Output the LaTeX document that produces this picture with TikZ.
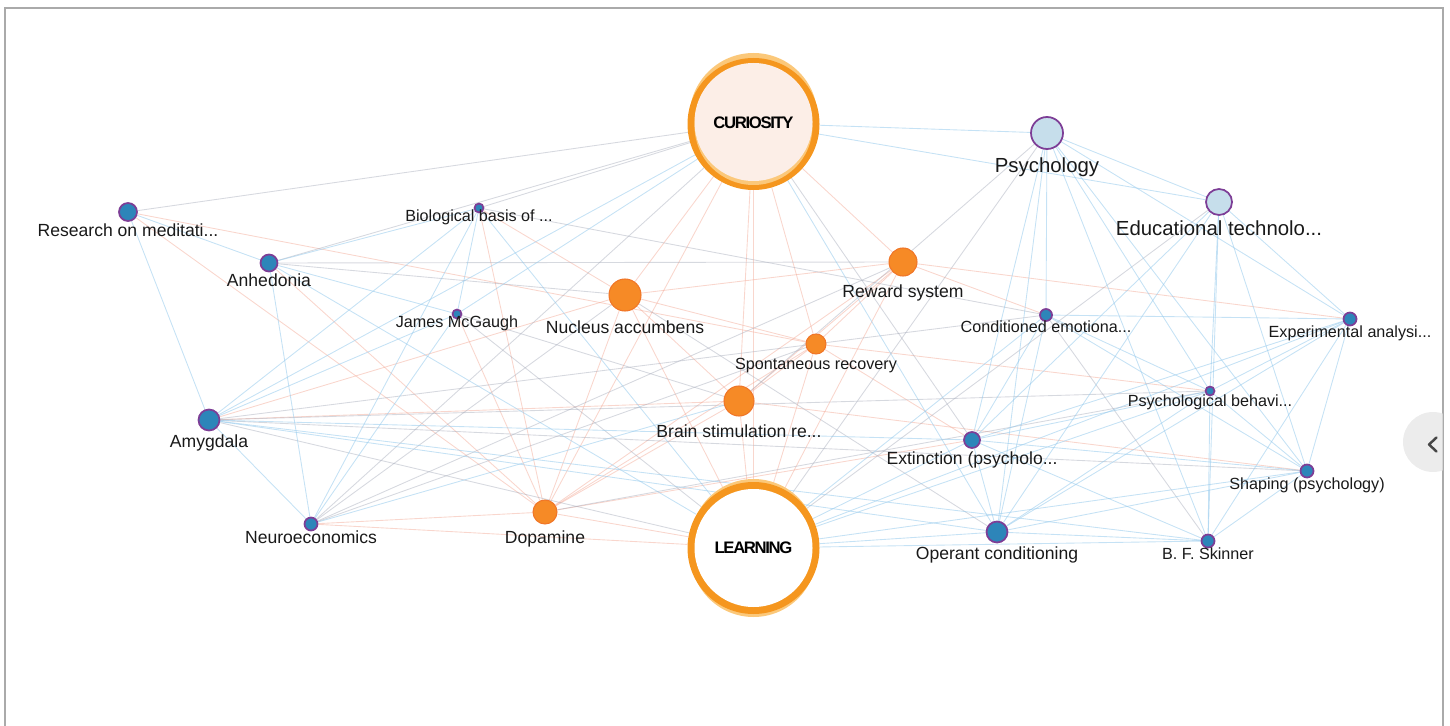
\documentclass[tikz,border=0pt]{standalone}
\usepackage{fontspec}
\setmainfont{Liberation Sans}
\newfontfamily\hubfont[LetterSpace=-8]{Liberation Sans}
\usetikzlibrary{backgrounds}

\definecolor{dotblue}{RGB}{45,133,185}
\definecolor{dotrim}{RGB}{125,62,150}
\definecolor{dotpale}{RGB}{198,222,235}
\definecolor{dotorange}{RGB}{246,138,38}
\definecolor{orangerim}{RGB}{240,118,40}
\definecolor{hubring}{RGB}{245,150,30}
\definecolor{hublight}{RGB}{251,200,122}
\definecolor{hubcream}{RGB}{252,238,231}
\definecolor{edgeblue}{RGB}{150,202,236}
\definecolor{edgered}{RGB}{242,165,145}
\definecolor{edgegrey}{RGB}{165,170,185}
\definecolor{labtext}{RGB}{25,25,25}
\definecolor{framegrey}{RGB}{170,170,170}
\definecolor{tabgrey}{RGB}{236,236,236}
\definecolor{chevgrey}{RGB}{70,70,70}

\tikzset{
  bdot/.style={circle, inner sep=0pt, minimum size=2*#1*0.02cm,
    fill=dotblue, draw=dotrim, line width=1pt},
  pdot/.style={bdot=#1, fill=dotpale},
  odot/.style={circle, inner sep=0pt, minimum size=2*#1*0.02cm,
    fill=dotorange, draw=orangerim, line width=0.6pt},
  hub/.style={circle, inner sep=0pt, minimum size=132*0.02cm,
    font=\hubfont\fontsize{9.5}{11}\selectfont\bfseries},
  lab/.style={anchor=base, inner sep=0pt, text=labtext,
    font=\fontsize{10}{12}\selectfont},
  labs/.style={lab, font=\fontsize{9.2}{11}\selectfont},
  labb/.style={lab, font=\fontsize{11.6}{14}\selectfont},
  redge/.style={draw=edgered, line width=0.5pt, draw opacity=0.45},
  gedge/.style={draw=edgegrey, line width=0.5pt, draw opacity=0.45},
  bedge/.style={draw=edgeblue, line width=0.5pt, draw opacity=0.55}
}

\begin{document}
\begin{tikzpicture}[x=0.02cm, y=-0.02cm]
  \useasboundingbox (0,0) rectangle (1450,726);
  % frame and side tab
  \draw[framegrey, line width=0.8pt] (5,726) -- (5,8) -- (1443,8) -- (1443,726);
  \begin{scope}
    \clip (1395,400) rectangle (1442.5,490);
    \fill[tabgrey] (1433,442) circle[radius=30];
  \end{scope}
  \draw[chevgrey, line width=1.4pt, line cap=round, line join=round]
    (1436.5,437.5) -- (1429,444.5) -- (1436.5,451.5);

  % hub rings
  \begin{scope}[shift={(753.5,123)}]
    \fill[hublight] (0,-6) circle[radius=64];
    \fill[hubring] (0,1) circle[radius=66];
    \fill[hublight] (0,3) circle[radius=59];
    \fill[hubcream] (0,-1) circle[radius=59];
  \end{scope}
  \begin{scope}[shift={(753.5,548)}]
    \fill[hublight] (0,-6) circle[radius=63];
    \fill[hublight] (0,6) circle[radius=63];
    \fill[hubring] (0,0) circle[radius=66];
    \fill[white] (0,0) circle[radius=59];
  \end{scope}
  \node[hub] (cur) at (753.5,123) {CURIOSITY};
  \node[hub] (lrn) at (753.5,548) {LEARNING};

  % concepts
  \node[bdot=9]    (res) at (128,212) {};
  \node[bdot=8.5]  (anh) at (269,263) {};
  \node[bdot=4.5]  (bio) at (479,208) {};
  \node[bdot=4.5]  (mcg) at (457,314) {};
  \node[bdot=10.5] (amy) at (209,420) {};
  \node[bdot=6.5]  (neu) at (311,524) {};
  \node[odot=16]   (nac) at (625,295) {};
  \node[odot=14]   (rew) at (903,262) {};
  \node[odot=10]   (spo) at (816,344) {};
  \node[odot=15]   (bsr) at (739,401) {};
  \node[odot=12]   (dop) at (545,512) {};
  \node[pdot=16]   (psy) at (1047,133) {};
  \node[pdot=13]   (edu) at (1219,202) {};
  \node[bdot=6]    (cer) at (1046,315) {};
  \node[bdot=6.5]  (exa) at (1350,319) {};
  \node[bdot=4.5]  (pbh) at (1210,391) {};
  \node[bdot=8]    (ext) at (972,440) {};
  \node[bdot=6.5]  (sha) at (1307,471) {};
  \node[bdot=10.5] (opc) at (997,532) {};
  \node[bdot=6.5]  (bfs) at (1208,541) {};

  % labels
  \node[lab]  (res-t) at (128,236.5) {Research on meditati...};
  \node[lab]  (anh-t) at (269,286.5) {Anhedonia};
  \node[labs] (bio-t) at (479,222) {Biological basis of ...};
  \node[labs] (mcg-t) at (457,327) {James McGaugh};
  \node[lab]  (amy-t) at (209,447.5) {Amygdala};
  \node[lab]  (neu-t) at (311,543.5) {Neuroeconomics};
  \node[lab]  (nac-t) at (625,333.5) {Nucleus accumbens};
  \node[lab]  (rew-t) at (903,297.5) {Reward system};
  \node[labs] (spo-t) at (816,369) {Spontaneous recovery};
  \node[lab]  (bsr-t) at (739,437.5) {Brain stimulation re...};
  \node[lab]  (dop-t) at (545,543) {Dopamine};
  \node[labb] (psy-t) at (1047,172.5) {Psychology};
  \node[labb] (edu-t) at (1219,235.5) {Educational technolo...};
  \node[labs] (cer-t) at (1046,332) {Conditioned emotiona...};
  \node[labs] (exa-t) at (1350,337) {Experimental analysi...};
  \node[labs] (pbh-t) at (1210,406) {Psychological behavi...};
  \node[lab]  (ext-t) at (972,464.5) {Extinction (psycholo...};
  \node[labs] (sha-t) at (1307,489) {Shaping (psychology)};
  \node[lab]  (opc-t) at (997,559.5) {Operant conditioning};
  \node[labs] (bfs-t) at (1208,559) {B. F. Skinner};

  % links
  \begin{scope}[on background layer]
    \foreach \a/\b in {cur/nac, cur/rew, cur/spo, cur/bsr, cur/dop, cur/lrn,
        lrn/nac, lrn/rew, lrn/spo, lrn/bsr, lrn/dop, lrn/neu,
        nac/rew, nac/spo, nac/bsr, nac/dop, rew/spo, rew/bsr, rew/dop,
        spo/bsr, spo/dop, bsr/dop, res/spo, res/dop, anh/dop, bio/dop,
        bio/nac, mcg/dop, neu/dop, amy/nac, amy/bsr, rew/exa, spo/pbh,
        rew/cer, bsr/sha, spo/ext, dop/ext}
      \draw[redge] (\a) -- (\b);
    \foreach \a/\b in {cur/res, cur/anh, cur/neu, cur/ext, cur/bio, lrn/mcg,
        lrn/psy, lrn/edu, lrn/amy, amy/pbh, amy/cer, amy/sha, neu/nac,
        neu/rew, neu/spo, anh/rew, anh/nac, bio/cer, mcg/bsr, dop/pbh,
        psy/bsr, cer/bfs, nac/opc}
      \draw[gedge] (\a) -- (\b);
    \foreach \a/\b in {res/anh, res/amy, anh/neu, anh/mcg, anh/lrn, amy/neu,
        bio/amy, bio/neu, bio/anh, bio/lrn, bio/mcg, mcg/cur, mcg/neu,
        mcg/amy, amy/cur, amy/ext, amy/opc, amy/bfs, neu/bsr, cur/psy,
        cur/opc, cur/edu, psy/edu, psy/cer, psy/exa, psy/pbh, psy/ext,
        psy/sha, psy/opc, psy/bfs, edu/pbh, edu/bfs, edu/exa, edu/opc,
        edu/sha, edu/ext, cer/exa, cer/ext, cer/opc, cer/sha, cer/pbh,
        exa/pbh, exa/ext, exa/opc, exa/bfs, exa/sha, pbh/ext, pbh/opc,
        pbh/bfs, pbh/sha, ext/opc, ext/bfs, ext/sha, opc/bfs, opc/sha,
        sha/bfs, lrn/cer, lrn/exa, lrn/pbh, lrn/ext, lrn/sha, lrn/opc,
        lrn/bfs}
      \draw[bedge] (\a) -- (\b);
  \end{scope}
\end{tikzpicture}
\end{document}
